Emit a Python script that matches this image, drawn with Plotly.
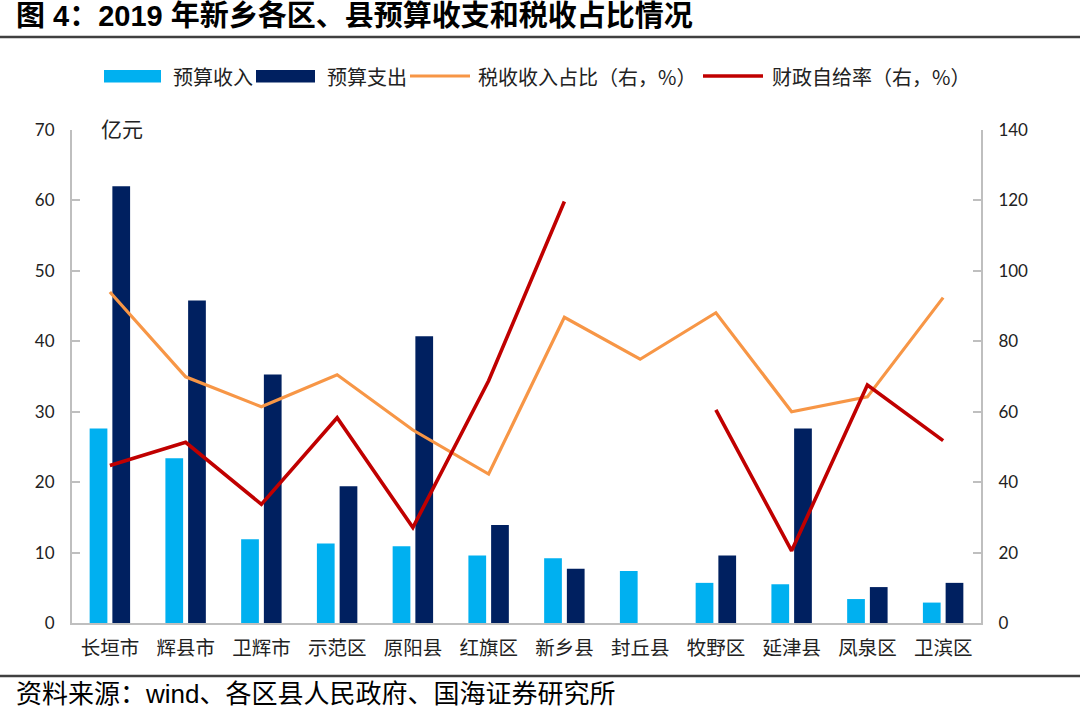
import plotly.graph_objects as go

categories = ["长垣市", "辉县市", "卫辉市", "示范区", "原阳县", "红旗区",
              "新乡县", "封丘县", "牧野区", "延津县", "凤泉区", "卫滨区"]
budget_revenue = [27.6, 23.4, 11.9, 11.3, 10.9, 9.6, 9.2, 7.4, 5.7, 5.5, 3.4, 2.9]
budget_expense = [62.0, 45.8, 35.3, 19.4, 40.7, 13.9, 7.7, None, 9.6, 27.6, 5.1, 5.7]
tax_ratio = [94.0, 69.9, 61.4, 70.5, 54.8, 42.3, 86.8, 74.9, 88.1, 60.0, 64.2, 92.4]
self_sufficiency = [44.7, 51.3, 33.7, 58.3, 27.1, 68.8, 119.7, None, 60.5, 20.5, 67.6, 51.8]
left_ticks = [0, 10, 20, 30, 40, 50, 60, 70]
right_ticks = [0, 20, 40, 60, 80, 100, 120, 140]

names = ["预算收入", "预算支出", "税收收入占比（右，%）", "财政自给率（右，%）"]
colors = ["#00B0F0", "#002060", "#F79646", "#C00000"]

W, H = 1080, 711
L, R, T, B = 72, 981, 130, 623

def px(x):
    return (x - L) / (R - L)

def py(y):
    return (B - y) / (B - T)

CJK = "Noto Sans CJK SC"
NUM = "Lato, Noto Sans CJK SC"

fig = go.Figure()
fig.add_trace(go.Bar(x=categories, y=budget_revenue, name=names[0],
                     marker=dict(color=colors[0], line=dict(width=0))))
fig.add_trace(go.Bar(x=categories, y=budget_expense, name=names[1],
                     marker=dict(color=colors[1], line=dict(width=0))))
fig.add_trace(go.Scatter(x=categories, y=tax_ratio, name=names[2], yaxis="y2",
                         mode="lines", line=dict(color=colors[2], width=3.2),
                         connectgaps=False))
fig.add_trace(go.Scatter(x=categories, y=self_sufficiency, name=names[3], yaxis="y2",
                         mode="lines", line=dict(color=colors[3], width=3.6),
                         connectgaps=False))

axis_grey = "#BFBFBF"
fig.update_layout(
    width=W, height=H,
    margin=dict(l=L, r=W - R, t=T, b=H - B, pad=0),
    paper_bgcolor="white", plot_bgcolor="white",
    showlegend=False,
    barmode="group", bargap=0.40, bargroupgap=0.22,
    xaxis=dict(type="category", showline=True, linecolor=axis_grey, linewidth=2,
               ticks="", showgrid=False, zeroline=False,
               tickfont=dict(family=CJK, size=19.5, color="#222222"),
               ticklabelstandoff=7),
    yaxis=dict(range=[0, 70], tickvals=left_ticks, showline=True, linecolor=axis_grey,
               linewidth=2, ticks="inside", ticklen=8, tickcolor=axis_grey, tickwidth=1.5,
               showgrid=False, zeroline=False,
               tickfont=dict(family=NUM, size=17, color="#222222"),
               ticklabelstandoff=12),
    yaxis2=dict(range=[0, 140], tickvals=right_ticks, overlaying="y", side="right",
                showline=True, linecolor=axis_grey, linewidth=2, ticks="inside",
                ticklen=8, tickcolor=axis_grey, tickwidth=1.5, showgrid=False,
                zeroline=False, tickfont=dict(family=NUM, size=17, color="#222222"),
                ticklabelstandoff=12),
)

shapes = []
annotations = []

# title and rules
annotations.append(dict(xref="paper", yref="paper", x=px(14), y=py(16),
                        xanchor="left", yanchor="middle", showarrow=False,
                        text="<b>图 4：2019 年新乡各区、县预算收支和税收占比情况</b>",
                        font=dict(family="Liberation Sans, " + CJK, size=29, color="#000000")))
shapes.append(dict(type="line", xref="paper", yref="paper", x0=px(0), x1=px(W),
                   y0=py(37), y1=py(37), line=dict(color="#404040", width=2.5)))
shapes.append(dict(type="line", xref="paper", yref="paper", x0=px(0), x1=px(W),
                   y0=py(676), y1=py(676), line=dict(color="#404040", width=2.5)))
annotations.append(dict(xref="paper", yref="paper", x=px(14), y=py(694),
                        xanchor="left", yanchor="middle", showarrow=False,
                        text="资料来源：wind、各区县人民政府、国海证券研究所",
                        font=dict(family="Liberation Sans, " + CJK, size=26, color="#000000")))

# unit label
annotations.append(dict(xref="paper", yref="paper", x=px(99), y=py(128),
                        xanchor="left", yanchor="middle", showarrow=False,
                        text="亿元", font=dict(family=CJK, size=21, color="#222222")))

# legend
leg_y = 76
for (x0, x1), c in zip([(104, 161), (256, 315)], colors[:2]):
    shapes.append(dict(type="rect", xref="paper", yref="paper",
                       x0=px(x0), x1=px(x1), y0=py(82.5), y1=py(70),
                       fillcolor=c, line=dict(width=0)))
for (x0, x1), c, w in zip([(410, 470), (703, 763)], colors[2:], [3.2, 3.6]):
    shapes.append(dict(type="line", xref="paper", yref="paper",
                       x0=px(x0), x1=px(x1), y0=py(leg_y), y1=py(leg_y),
                       line=dict(color=c, width=w)))
for xt, name in zip([171, 325, 476, 770], names):
    annotations.append(dict(xref="paper", yref="paper", x=px(xt), y=py(leg_y),
                            xanchor="left", yanchor="middle", showarrow=False,
                            text=name, font=dict(family=CJK, size=20, color="#222222")))

fig.update_layout(shapes=shapes, annotations=annotations)
fig.write_html("out.html", config={"displayModeBar": False},
               post_script="document.body.style.margin='0px';document.body.style.padding='0px';")
